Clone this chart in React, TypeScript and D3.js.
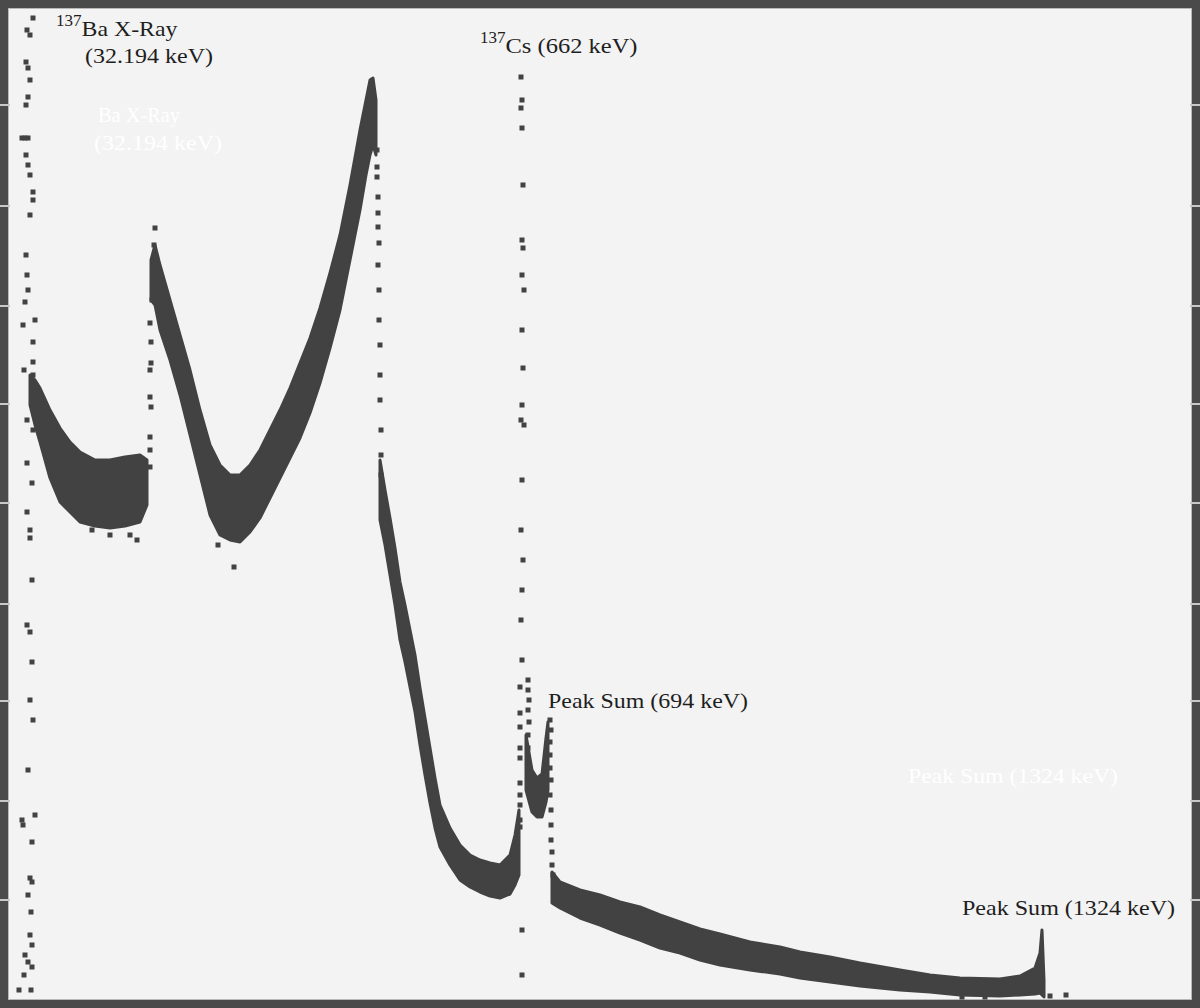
import React from "react";
import * as d3 from "d3";

// Channel (≈ pixel column) and counts (arbitrary units).
// Bands: [channel, upper count, lower count]
const lowEnergyBand: [number, number, number][] = [
  [30, 625, 595], [35, 620, 575], [40, 612, 558], [50, 590, 522], [60, 572, 498],
  [70, 558, 488], [80, 548, 478], [95, 540, 474], [110, 540, 472], [125, 543, 474],
  [140, 545, 478], [147, 540, 495],
];
const backscatterBand: [number, number, number][] = [
  [151, 740, 700], [155, 755, 695], [160, 735, 670], [170, 700, 640], [180, 665, 605],
  [190, 630, 565], [200, 590, 525], [210, 555, 485], [220, 535, 465], [230, 525, 460],
  [240, 525, 458], [250, 535, 468], [260, 550, 482], [270, 570, 502], [280, 590, 522],
  [290, 612, 542], [300, 637, 562], [310, 662, 587], [320, 692, 617], [330, 727, 652],
  [340, 765, 690], [350, 815, 740], [360, 870, 790], [366, 900, 825], [370, 920, 845],
  [373, 922, 855], [376, 900, 845],
];
const comptonBand: [number, number, number][] = [
  [380, 540, 480], [385, 510, 455], [390, 482, 425], [395, 452, 395], [400, 418, 360],
  [405, 395, 338], [410, 370, 313], [415, 345, 288], [420, 312, 255], [425, 282, 225],
  [430, 252, 197], [435, 222, 172], [440, 195, 153], [450, 172, 135], [460, 155, 120],
  [470, 145, 113], [480, 140, 108], [490, 137, 104], [500, 135, 102], [510, 145, 106],
  [515, 165, 115], [519, 190, 125],
];
const sumValleyBand: [number, number, number][] = [
  [526, 265, 210], [532, 230, 188], [537, 222, 183], [542, 226, 183], [546, 262, 198],
  [548, 278, 210],
];
const tailBand: [number, number, number][] = [
  [552, 128, 97], [560, 118, 92], [580, 110, 82], [600, 105, 75], [620, 98, 67],
  [640, 93, 60], [660, 85, 52], [680, 78, 47], [700, 71, 40], [720, 66, 35],
  [750, 58, 30], [780, 53, 26], [800, 48, 22], [830, 43, 18], [860, 37, 14],
  [900, 30, 10], [930, 25, 8], [960, 22, 5], [1000, 21, 4], [1020, 24, 5],
  [1035, 32, 6], [1040, 47, 7], [1042, 70, 5], [1044, 20, 3],
];

// Sparse single points: [channel, count]
const xrayDots: [number, number][] = [
  [33, 982], [27, 970], [30, 965], [26, 938], [28, 932], [30, 920], [28, 903], [26, 895],
  [22, 862], [25, 862], [28, 862], [26, 845], [28, 835], [30, 825], [33, 808], [33, 800],
  [30, 785], [26, 745], [27, 725], [28, 710], [25, 698], [35, 680], [23, 675], [33, 658],
  [33, 638], [24, 630], [33, 625], [27, 580], [33, 570], [27, 537], [32, 517], [27, 488],
  [30, 470], [30, 462], [32, 420], [27, 375], [30, 368], [32, 338], [30, 300], [33, 280],
  [28, 230], [22, 180], [23, 175], [35, 185], [32, 158], [30, 122], [32, 118], [28, 105],
  [31, 88], [30, 65], [32, 55], [25, 45], [28, 38], [32, 33], [24, 25], [19, 10], [31, 10],
];
const csDots: [number, number][] = [
  [521, 923], [522, 900], [521, 892], [522, 872], [523, 815], [522, 760], [523, 752],
  [522, 725], [524, 710], [522, 670], [523, 632], [522, 595], [521, 580], [524, 575],
  [522, 520], [521, 470], [523, 440], [522, 410], [521, 380], [522, 340], [520, 313],
  [520, 287], [520, 273], [520, 252], [520, 242], [520, 217], [520, 205], [520, 195],
  [520, 180], [520, 173], [522, 70], [522, 25],
  [528, 320], [528, 310], [529, 300], [528, 290], [529, 278], [528, 265], [528, 252],
];
const sumDots: [number, number][] = [
  [550, 280], [551, 270], [550, 258], [550, 245], [550, 232], [551, 220], [550, 205],
  [551, 190], [551, 175], [551, 160], [552, 148], [552, 135], [553, 125],
];
const edgeDots: [number, number][] = [
  [377, 850], [377, 833], [377, 823], [378, 803], [378, 787], [378, 773], [379, 757],
  [378, 735], [379, 710], [379, 680], [380, 655], [380, 625], [380, 600], [381, 570],
  [381, 545], [381, 525],
  [150, 533], [150, 550], [150, 563], [151, 593], [150, 603], [150, 630], [151, 637],
  [151, 658], [150, 677], [152, 700], [154, 755], [155, 772],
];
const strayDots: [number, number][] = [
  [92, 470], [110, 465], [130, 465], [137, 460], [234, 433], [218, 455],
  [1050, 4], [1066, 5], [962, 3], [985, 3],
];

const frameTicks = [104, 205, 305, 403, 502, 603, 700, 800, 899];

type Label = { sup?: string; text: string; x: number; y: number; w: number; ghost?: boolean };
const labels: Label[] = [
  { sup: "137", text: "Ba X-Ray", x: 56, y: 36, w: 96 },
  { text: "(32.194 keV)", x: 85, y: 63, w: 128 },
  { sup: "137", text: "Cs (662 keV)", x: 480, y: 53, w: 132 },
  { text: "Peak Sum (694 keV)", x: 548, y: 708, w: 200 },
  { text: "Peak Sum (1324 keV)", x: 962, y: 915, w: 213 },
  { text: "Ba X-Ray", x: 98, y: 122, w: 82, ghost: true },
  { text: "(32.194 keV)", x: 94, y: 150, w: 128, ghost: true },
  { text: "Peak Sum (1324 keV)", x: 908, y: 783, w: 210, ghost: true },
];

const W = 1200;
const H = 1008;

export default function App() {
  const x = d3.scaleLinear().domain([0, 1200]).range([0, 1200]);
  const y = d3.scaleLinear().domain([0, 1000]).range([1000, 0]);
  const area = d3
    .area<[number, number, number]>()
    .x((d) => x(d[0]))
    .y0((d) => y(d[2]))
    .y1((d) => y(d[1]))
    .curve(d3.curveLinear);
  const bands = [lowEnergyBand, backscatterBand, comptonBand, sumValleyBand, tailBand];
  const dots = [...xrayDots, ...csDots, ...sumDots, ...edgeDots, ...strayDots];
  const ink = "#424242";
  return (
    <svg
      width={W}
      height={H}
      style={{ position: "absolute", left: 0, top: 0, display: "block" }}
      fontFamily="'Liberation Serif', 'DejaVu Serif', serif"
    >
      <rect x={0} y={0} width={W} height={H} fill="#4a4a4a" />
      <rect x={8} y={8} width={1184} height={992} fill="#b8b8b8" />
      <rect x={9} y={9} width={1182} height={990} fill="#f3f3f3" />
      {frameTicks.map((t) => (
        <g key={t}>
          <rect x={0} y={t} width={10} height={2} fill="#c8c8c8" />
          <rect x={1190} y={t} width={10} height={2} fill="#c8c8c8" />
        </g>
      ))}
      {bands.map((b, i) => (
        <path key={i} d={area(b) || ""} fill={ink} stroke={ink} strokeWidth={3} strokeLinejoin="round" />
      ))}
      {dots.map((d, i) => (
        <rect key={i} x={x(d[0]) - 2.5} y={y(d[1]) - 2.5} width={5} height={5} fill={ink} />
      ))}
      {labels.map((l, i) => (
        <text key={i} x={l.x} y={l.y} fontSize={22} fill={l.ghost ? "#ffffff" : "#1e1e1e"}>
          {l.sup ? (
            <tspan fontSize={17} dy={-10}>
              {l.sup}
            </tspan>
          ) : null}
          <tspan dy={l.sup ? 10 : 0} textLength={l.w} lengthAdjust="spacingAndGlyphs">
            {l.text}
          </tspan>
        </text>
      ))}
    </svg>
  );
}
